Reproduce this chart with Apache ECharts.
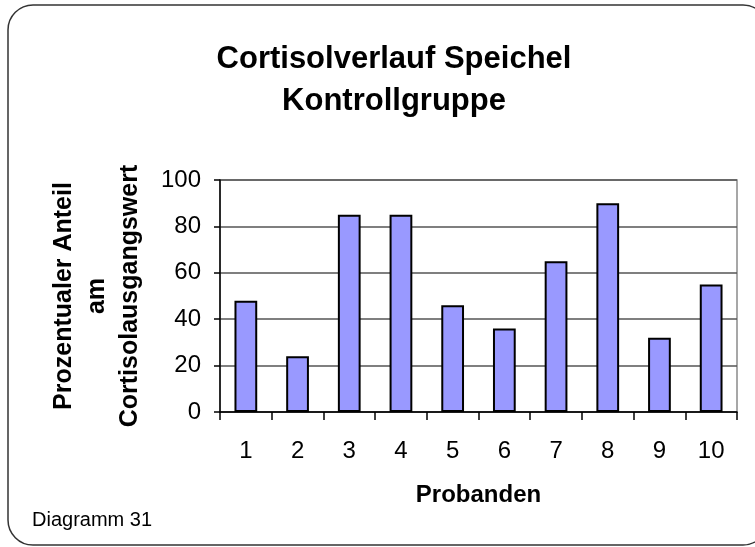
<!DOCTYPE html>
<html>
<head>
<meta charset="UTF-8">
<title>Cortisolverlauf</title>
<script src="https://cdn.jsdelivr.net/npm/echarts@6/dist/echarts.min.js"></script>
<style>
  html, body { margin: 0; padding: 0; background: #fff; }
  #chart { width: 755px; height: 547px; }
</style>
</head>
<body>
<div id="chart"></div>
<script>
var probanden = ['1', '2', '3', '4', '5', '6', '7', '8', '9', '10'];
var anteil = [48, 24, 85, 85, 46, 36, 65, 90, 32, 55];
var yTicks = [0, 20, 40, 60, 80, 100];

var font = '"Liberation Sans", Arial, sans-serif';
var chart = echarts.init(document.getElementById('chart'));

chart.setOption({
    animation: false,
    backgroundColor: '#fff',
    title: {
        text: 'Cortisolverlauf Speichel\nKontrollgruppe',
        left: 389,
        textAlign: 'center',
        top: 33,
        textStyle: { fontFamily: font, fontSize: 31, fontWeight: 'bold', color: '#000', lineHeight: 42 }
    },
    grid: {
        left: 220, top: 180, right: 18, bottom: 135,
        show: true, borderColor: '#8a8a8a', borderWidth: 1.5
    },
    xAxis: {
        type: 'category',
        data: probanden,
        name: 'Probanden',
        nameLocation: 'middle',
        nameGap: 71,
        nameTextStyle: { fontFamily: font, fontSize: 24, fontWeight: 'bold', color: '#000' },
        axisLine: { lineStyle: { color: '#000', width: 1.5 } },
        axisTick: { show: true, length: 8, lineStyle: { color: '#000', width: 1.5 } },
        axisLabel: { fontFamily: font, fontSize: 24, color: '#000', margin: 27 }
    },
    yAxis: {
        type: 'value',
        min: 0, max: 100, interval: 20,
        name: 'Prozentualer Anteil\nam\nCortisolausgangswert',
        nameLocation: 'middle',
        nameRotate: 90,
        nameGap: 73,
        nameTextStyle: { fontFamily: font, fontSize: 25, fontWeight: 'bold', color: '#000', lineHeight: 33 },
        axisLine: { show: true, lineStyle: { color: '#000', width: 1.5 } },
        axisTick: { show: true, length: 6, lineStyle: { color: '#000', width: 1.5 } },
        splitLine: { lineStyle: { color: '#555', width: 1.5 } },
        axisLabel: {
            fontFamily: font, fontSize: 24, color: '#000', margin: 19,
            formatter: function (v) { return yTicks.indexOf(v) >= 0 ? String(v) : ''; }
        }
    },
    series: [{
        type: 'bar',
        data: anteil,
        barCategoryGap: '56%',
        itemStyle: { color: '#9999ff', borderColor: '#000', borderWidth: 2 }
    }],
    graphic: [
        {
            type: 'rect',
            shape: { x: 8, y: 5, width: 760, height: 540, r: 25 },
            style: { fill: 'none', stroke: '#333', lineWidth: 1.5 },
            z: 10
        },
        {
            type: 'text',
            left: 32, top: 510,
            style: { text: 'Diagramm 31', fontFamily: font, fontSize: 20, fill: '#000' }
        }
    ]
});
</script>
</body>
</html>
